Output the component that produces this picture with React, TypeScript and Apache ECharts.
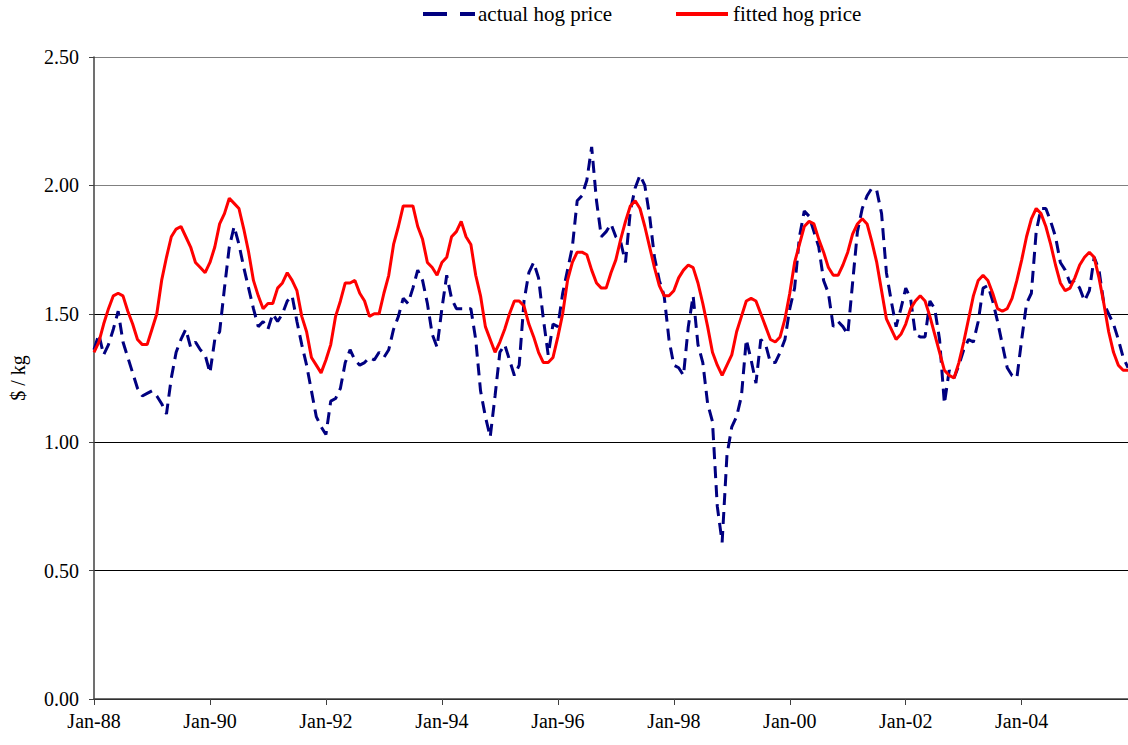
import React, { useEffect, useRef } from "react";
import * as echarts from "echarts";

const monthNames = ["Jan", "Feb", "Mar", "Apr", "May", "Jun", "Jul", "Aug", "Sep", "Oct", "Nov", "Dec"];

const seriesNames = ["actual hog price", "fitted hog price"];
const seriesColors = ["#000080", "#ff0000"];

// monthly values, Jan-88 onwards ($/kg)
const actualHogPrice = [
  1.36, 1.42, 1.34, 1.38, 1.44, 1.51, 1.39, 1.33, 1.27, 1.21, 1.18, 1.19,
  1.20, 1.18, 1.15, 1.11, 1.25, 1.35, 1.40, 1.44, 1.37, 1.39, 1.36, 1.34,
  1.27, 1.40, 1.43, 1.60, 1.76, 1.84, 1.77, 1.68, 1.60, 1.52, 1.45, 1.47,
  1.44, 1.50, 1.47, 1.50, 1.55, 1.57, 1.47, 1.38, 1.30, 1.20, 1.10, 1.06,
  1.03, 1.16, 1.17, 1.21, 1.31, 1.36, 1.32, 1.30, 1.31, 1.33, 1.32, 1.35,
  1.33, 1.36, 1.44, 1.49, 1.56, 1.54, 1.60, 1.67, 1.63, 1.54, 1.42, 1.37,
  1.52, 1.65, 1.56, 1.52, 1.52, 1.52, 1.52, 1.40, 1.20, 1.10, 1.02, 1.18,
  1.35, 1.38, 1.32, 1.26, 1.30, 1.55, 1.66, 1.70, 1.64, 1.48, 1.34, 1.46,
  1.45, 1.58, 1.67, 1.76, 1.94, 1.96, 2.02, 2.15, 1.94, 1.80, 1.82, 1.85,
  1.80, 1.78, 1.70, 1.90, 1.99, 2.04, 2.00, 1.88, 1.72, 1.63, 1.57, 1.40,
  1.30, 1.29, 1.26, 1.45, 1.57, 1.38, 1.31, 1.15, 1.08, 0.75, 0.61, 0.95,
  1.06, 1.10, 1.18, 1.40, 1.32, 1.23, 1.40, 1.38, 1.31, 1.31, 1.35, 1.40,
  1.52, 1.60, 1.80, 1.90, 1.88, 1.82, 1.76, 1.63, 1.58, 1.45, 1.47, 1.45,
  1.42, 1.62, 1.82, 1.91, 1.96, 1.99, 1.98, 1.89, 1.66, 1.55, 1.45, 1.52,
  1.60, 1.56, 1.42, 1.41, 1.41, 1.55, 1.52, 1.40, 1.15, 1.28, 1.25, 1.30,
  1.36, 1.40, 1.39, 1.47, 1.60, 1.61, 1.55, 1.47, 1.38, 1.29, 1.26, 1.25,
  1.40, 1.54, 1.58, 1.82, 1.91, 1.91, 1.86, 1.80, 1.70, 1.67, 1.62, 1.63,
  1.60, 1.55, 1.59, 1.72, 1.67, 1.54, 1.50, 1.46, 1.40, 1.33, 1.29,
];

const fittedHogPrice = [
  1.35, 1.39, 1.46, 1.52, 1.57, 1.58, 1.57, 1.51, 1.46, 1.40, 1.38, 1.38,
  1.44, 1.50, 1.63, 1.72, 1.80, 1.83, 1.84, 1.80, 1.76, 1.70, 1.68, 1.66,
  1.70, 1.76, 1.85, 1.89, 1.95, 1.93, 1.91, 1.83, 1.74, 1.63, 1.57, 1.52,
  1.54, 1.54, 1.60, 1.62, 1.66, 1.63, 1.59, 1.49, 1.43, 1.33, 1.30, 1.27,
  1.32, 1.38, 1.49, 1.55, 1.62, 1.62, 1.63, 1.58, 1.55, 1.49, 1.50, 1.50,
  1.58, 1.65, 1.77, 1.84, 1.92, 1.92, 1.92, 1.84, 1.79, 1.70, 1.68, 1.65,
  1.70, 1.72, 1.80, 1.82, 1.86, 1.80, 1.77, 1.65, 1.57, 1.45, 1.40, 1.35,
  1.39, 1.44, 1.50, 1.55, 1.55, 1.53, 1.46, 1.41, 1.35, 1.31, 1.31, 1.33,
  1.41, 1.50, 1.63, 1.70, 1.74, 1.74, 1.73, 1.67, 1.62, 1.60, 1.60, 1.66,
  1.71, 1.79, 1.86, 1.92, 1.94, 1.91, 1.84, 1.76, 1.68, 1.61, 1.57, 1.57,
  1.59, 1.64, 1.67, 1.69, 1.68, 1.62, 1.54, 1.45, 1.35, 1.30, 1.26, 1.30,
  1.34, 1.43, 1.49, 1.55, 1.56, 1.55, 1.50, 1.45, 1.40, 1.39, 1.41, 1.48,
  1.58, 1.70, 1.77, 1.84, 1.86, 1.85, 1.79, 1.74, 1.68, 1.65, 1.65, 1.69,
  1.74, 1.81, 1.85, 1.87, 1.85, 1.78, 1.70, 1.59, 1.48, 1.44, 1.40, 1.42,
  1.46, 1.52, 1.55, 1.57, 1.55, 1.49, 1.42, 1.35, 1.28, 1.26, 1.25, 1.31,
  1.39, 1.48, 1.57, 1.63, 1.65, 1.63, 1.58, 1.52, 1.51, 1.52, 1.56, 1.63,
  1.71, 1.80, 1.87, 1.91, 1.89, 1.84, 1.77, 1.69, 1.62, 1.59, 1.60, 1.64,
  1.69, 1.72, 1.74, 1.72, 1.64, 1.54, 1.43, 1.35, 1.30, 1.28, 1.28,
];

const monthLabels = actualHogPrice.map(
  (_, i) => `${monthNames[i % 12]}-${String((88 + Math.floor(i / 12)) % 100).padStart(2, "0")}`
);

const FONT = "Liberation Serif";

export default function App() {
  const ref = useRef<HTMLDivElement>(null);
  useEffect(() => {
    if (!ref.current) return;
    const chart = echarts.init(ref.current, undefined, { renderer: "svg" });
    chart.setOption({
      animation: false,
      backgroundColor: "#ffffff",
      textStyle: { fontFamily: FONT },
      graphic: [
        {
          type: "line",
          shape: { x1: 423, y1: 14, x2: 475, y2: 14 },
          style: { stroke: seriesColors[0], lineWidth: 4, lineDash: [24, 13] },
        },
        {
          type: "text",
          x: 478,
          y: 14,
          style: {
            text: seriesNames[0],
            font: `21px "${FONT}"`,
            fill: "#000",
            verticalAlign: "middle",
            align: "left",
          },
        },
        {
          type: "line",
          shape: { x1: 676, y1: 14, x2: 728, y2: 14 },
          style: { stroke: seriesColors[1], lineWidth: 4 },
        },
        {
          type: "text",
          x: 733,
          y: 14,
          style: {
            text: seriesNames[1],
            font: `21px "${FONT}"`,
            fill: "#000",
            verticalAlign: "middle",
            align: "left",
          },
        },
      ],
      grid: { left: 93, right: 0, top: 57, bottom: 46, containLabel: false },
      xAxis: {
        type: "category",
        data: monthLabels,
        boundaryGap: false,
        axisLine: { lineStyle: { color: "#404040", width: 1.5 } },
        axisTick: { interval: 23, length: 6, lineStyle: { color: "#404040" } },
        axisLabel: { interval: 23, fontFamily: FONT, fontSize: 20, color: "#000", margin: 12 },
        splitLine: { show: false },
      },
      yAxis: {
        type: "value",
        min: 0,
        max: 2.5,
        interval: 0.5,
        name: "$ / kg",
        nameLocation: "middle",
        nameGap: 66,
        nameRotate: 90,
        nameTextStyle: { fontFamily: FONT, fontSize: 20, color: "#000" },
        axisLine: { show: true, lineStyle: { color: "#404040", width: 1.5 } },
        axisTick: { show: true, length: 5, lineStyle: { color: "#404040" } },
        axisLabel: {
          fontFamily: FONT,
          fontSize: 20,
          color: "#000",
          margin: 15,
          formatter: (v: number) => v.toFixed(2),
        },
        splitLine: {
          show: true,
          lineStyle: { color: ["#000", "#000", "#000", "#000", "#808080", "#808080"], width: 1 },
        },
      },
      series: [
        {
          name: seriesNames[0],
          type: "line",
          data: actualHogPrice,
          symbol: "none",
          lineStyle: { color: seriesColors[0], width: 3, type: [12, 7] },
          itemStyle: { color: seriesColors[0] },
          z: 2,
        },
        {
          name: seriesNames[1],
          type: "line",
          data: fittedHogPrice,
          symbol: "none",
          lineStyle: { color: seriesColors[1], width: 3 },
          itemStyle: { color: seriesColors[1] },
          z: 3,
        },
      ],
    });
    return () => chart.dispose();
  }, []);
  return (
    <div
      ref={ref}
      style={{ position: "absolute", left: 0, top: 0, width: 1128, height: 745, background: "#fff" }}
    />
  );
}
